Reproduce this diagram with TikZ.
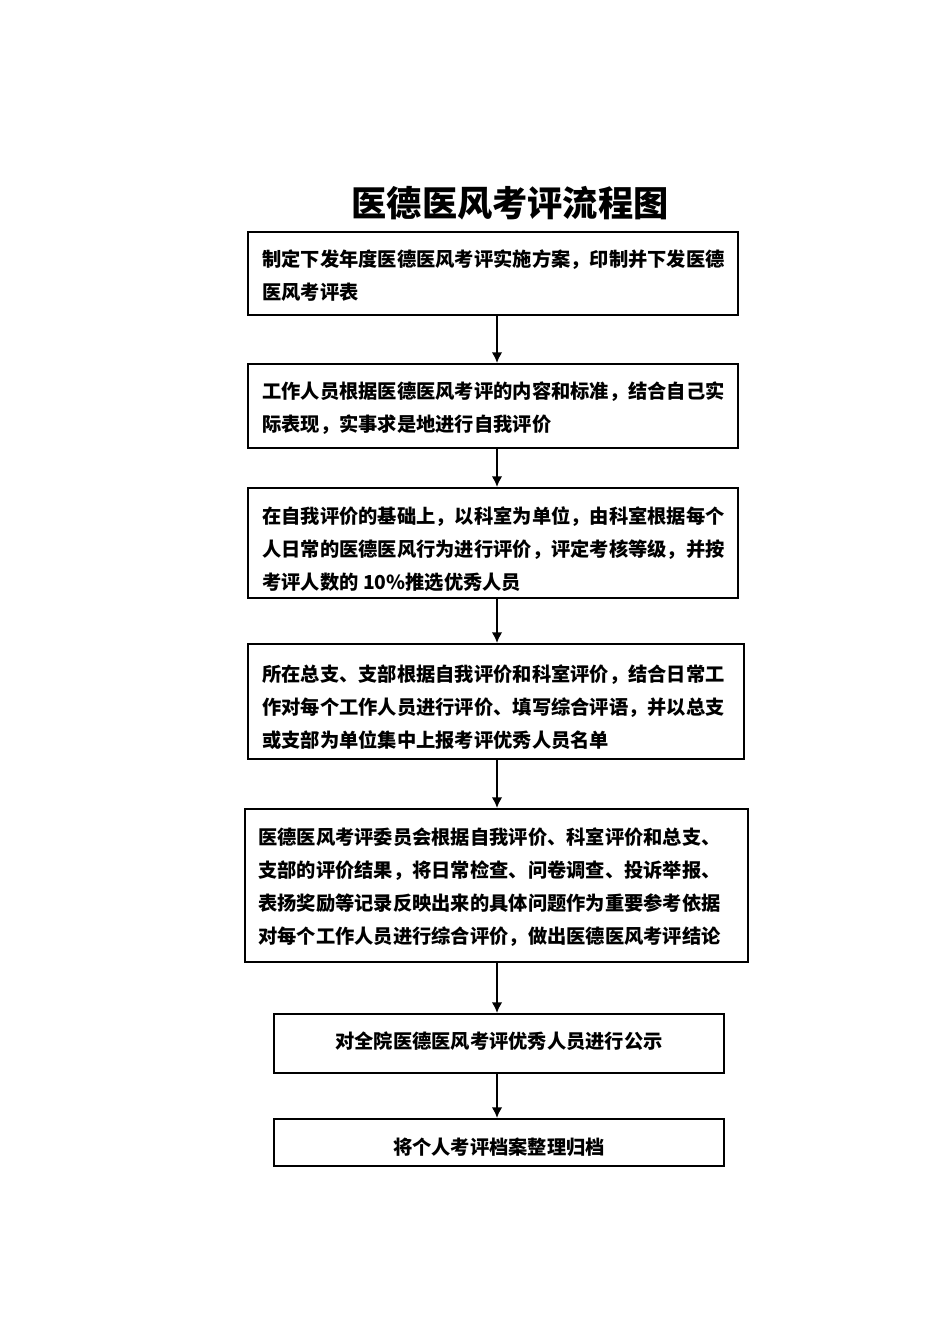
\documentclass[tikz,border=0pt]{standalone}
\usepackage{fontspec}
\setmainfont{Noto Sans CJK SC}
\usetikzlibrary{arrows.meta}
\tikzset{
  flowbox/.style={draw=black, line width=1.5pt, inner sep=0pt},
  bodytext/.style={inner sep=0pt, align=left, font=\fontsize{14.45pt}{24.75pt}\selectfont\bfseries},
  flowarrow/.style={line width=1.5pt, -{Latex[length=8pt,width=8pt]}},
}
\begin{document}
\begin{tikzpicture}[x=0.75pt,y=-0.75pt]
\useasboundingbox (0,0) rectangle (950,1344);
% title
\node[inner sep=0pt, font=\fontsize{26.4pt}{30pt}\selectfont\bfseries] (title) at (510,203) {医德医风考评流程图};
% boxes
\node[flowbox, minimum width=367.5pt, minimum height=62.25pt] (b1) at (493,273.5) {};
\node[flowbox, minimum width=367.5pt, minimum height=63pt] (b2) at (493,406) {};
\node[flowbox, minimum width=367.5pt, minimum height=82.5pt] (b3) at (493,543) {};
\node[flowbox, minimum width=372pt, minimum height=86.25pt] (b4) at (496,701.5) {};
\node[flowbox, minimum width=377.25pt, minimum height=114.75pt] (b5) at (496.5,885.5) {};
\node[flowbox, minimum width=337.5pt, minimum height=44.25pt] (b6) at (499,1043.5) {};
\node[flowbox, minimum width=337.5pt, minimum height=35.25pt] (b7) at (499,1142.5) {};
% texts
\node[bodytext, anchor=west] (t1) at (262,275.5) {制定下发年度医德医风考评实施方案，印制并下发医德\\医风考评表};
\node[bodytext, anchor=west] (t2) at (262,408.5) {工作人员根据医德医风考评的内容和标准，结合自己实\\际表现，实事求是地进行自我评价};
\node[bodytext, anchor=west] (t3) at (262,549) {在自我评价的基础上，以科室为单位，由科室根据每个\\人日常的医德医风行为进行评价，评定考核等级，并按\\考评人数的 10\%推选优秀人员};
\node[bodytext, anchor=west] (t4) at (262,707) {所在总支、支部根据自我评价和科室评价，结合日常工\\作对每个工作人员进行评价、填写综合评语，并以总支\\或支部为单位集中上报考评优秀人员名单};
\node[bodytext, anchor=west] (t5) at (258,887) {医德医风考评委员会根据自我评价、科室评价和总支、\\支部的评价结果，将日常检查、问卷调查、投诉举报、\\表扬奖励等记录反映出来的具体问题作为重要参考依据\\对每个工作人员进行综合评价，做出医德医风考评结论};
\node[bodytext] (t6) at (499,1041) {对全院医德医风考评优秀人员进行公示};
\node[bodytext] (t7) at (499,1147) {将个人考评档案整理归档};
% arrows
\coordinate (ax) at (497,0);
\draw[flowarrow] (b1.south -| ax) -- (b2.north -| ax);
\draw[flowarrow] (b2.south -| ax) -- (b3.north -| ax);
\draw[flowarrow] (b3.south -| ax) -- (b4.north -| ax);
\draw[flowarrow] (b4.south -| ax) -- (b5.north -| ax);
\draw[flowarrow] (b5.south -| ax) -- (b6.north -| ax);
\draw[flowarrow] (b6.south -| ax) -- (b7.north -| ax);
\end{tikzpicture}
\end{document}
